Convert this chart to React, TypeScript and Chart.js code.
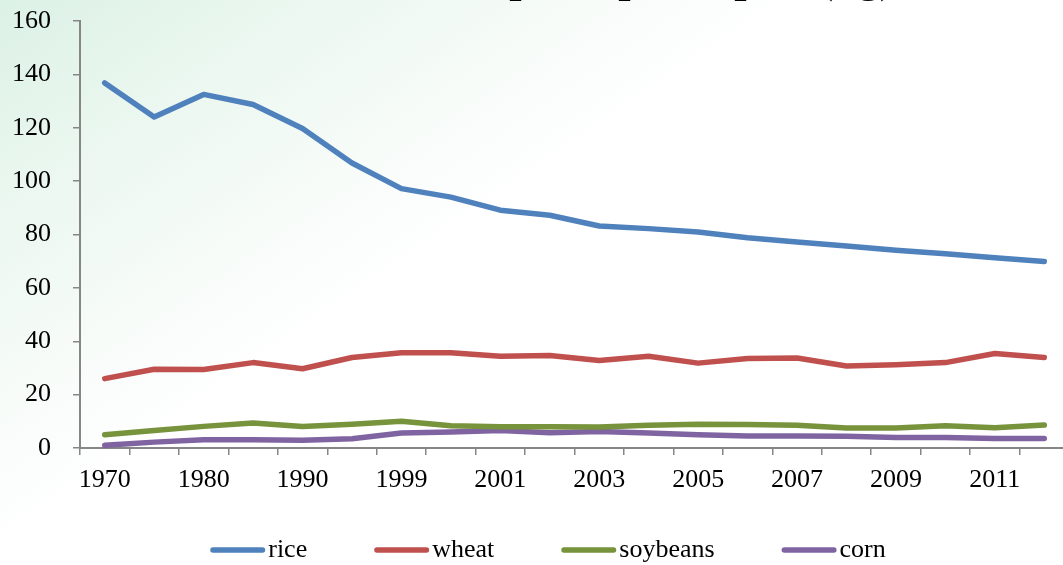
import React, { useEffect, useRef } from "react";
import { Chart, registerables } from "chart.js";

Chart.register(...registerables);

const YEARS = [
  "1970", "1975", "1980", "1985", "1990", "1995", "1999", "2000", "2001", "2002",
  "2003", "2004", "2005", "2006", "2007", "2008", "2009", "2010", "2011", "2012",
];
const RICE = [136.8, 124.0, 132.5, 128.7, 119.7, 106.8, 97.2, 94.0, 89.1, 87.2, 83.2, 82.2, 80.9, 78.8, 77.2, 75.7, 74.1, 72.8, 71.3, 69.9];
const WHEAT = [26.0, 29.5, 29.4, 32.0, 29.7, 33.9, 35.7, 35.7, 34.4, 34.7, 32.8, 34.4, 31.8, 33.5, 33.7, 30.7, 31.2, 32.0, 35.4, 33.9];
const SOYBEANS = [5.0, 6.6, 8.1, 9.4, 8.1, 8.9, 10.0, 8.3, 8.0, 8.0, 7.9, 8.5, 8.9, 8.8, 8.5, 7.5, 7.5, 8.3, 7.6, 8.6];
const CORN = [1.0, 2.2, 3.1, 3.1, 2.9, 3.5, 5.6, 6.0, 6.6, 5.7, 6.2, 5.6, 5.0, 4.5, 4.5, 4.4, 3.9, 3.9, 3.6, 3.6];
const SERIES_NAMES = ["rice", "wheat", "soybeans", "corn"];
const COLORS = ["#4f81bd", "#c0504d", "#77933c", "#8064a2"];
const Y_MIN = 0;
const Y_MAX = 160;
const Y_STEP = 20;
const TITLE = "Grain consumption per capita (kg)";

const FONT = "'Liberation Serif', 'Times New Roman', serif";
const AXIS = "#868686";
const CANVAS_W = 1070;
const CANVAS_H = 565;
const FONT_SIZE = 26;
const LINE_W = 5.5;

const bgPlugin = {
  id: "bg",
  beforeDraw(chart: any) {
    const ctx = chart.ctx;
    ctx.save();
    ctx.fillStyle = "#ffffff";
    ctx.fillRect(0, 0, chart.width, chart.height);
    const g = ctx.createLinearGradient(0, 0, 260, 380);
    g.addColorStop(0, "rgba(220,241,229,1)");
    g.addColorStop(0.35, "rgba(234,247,239,1)");
    g.addColorStop(0.7, "rgba(246,251,248,1)");
    g.addColorStop(1, "rgba(255,255,255,1)");
    ctx.fillStyle = g;
    ctx.fillRect(0, 0, chart.width, chart.height);
    ctx.restore();
  },
};

const decorPlugin = {
  id: "decor",
  afterDraw(chart: any) {
    const ctx = chart.ctx;
    ctx.save();
    // title (mostly above the visible area)
    ctx.font = `bold 44px ${FONT}`;
    ctx.fillStyle = "#000";
    ctx.textAlign = "center";
    ctx.textBaseline = "alphabetic";
    ctx.fillText(TITLE, 568, -8);

    // legend
    ctx.font = `${FONT_SIZE}px ${FONT}`;
    ctx.textBaseline = "middle";
    ctx.textAlign = "left";
    const lineLen = 55;
    const gap = 3;
    const itemGap = 67;
    const ds = chart.data.datasets;
    const widths = ds.map((d: any) => lineLen + gap + ctx.measureText(d.label).width);
    const total = widths.reduce((a: number, b: number) => a + b, 0) + itemGap * (ds.length - 1);
    let x = 548 - total / 2;
    const y = 550;
    ds.forEach((d: any, i: number) => {
      ctx.strokeStyle = d.borderColor;
      ctx.lineWidth = LINE_W;
      ctx.lineCap = "round";
      ctx.beginPath();
      ctx.moveTo(x + 2.75, y);
      ctx.lineTo(x + lineLen - 2.75, y);
      ctx.stroke();
      ctx.fillStyle = "#000";
      ctx.fillText(d.label, x + lineLen + gap, y);
      x += widths[i] + itemGap;
    });
    ctx.restore();
  },
};

export default function App() {
  const ref = useRef<HTMLCanvasElement>(null);
  useEffect(() => {
    if (!ref.current) return;
    const values = [RICE, WHEAT, SOYBEANS, CORN];
    const chart = new Chart(ref.current, {
      type: "line",
      data: {
        labels: YEARS,
        datasets: values.map((v, i) => ({
          label: SERIES_NAMES[i],
          data: v,
          borderColor: COLORS[i],
          backgroundColor: COLORS[i],
          borderWidth: LINE_W,
          pointRadius: 0,
          tension: 0,
          borderCapStyle: "round" as const,
          borderJoinStyle: "round" as const,
          fill: false,
        })),
      },
      options: {
        responsive: false,
        animation: false,
        devicePixelRatio: 1,
        layout: { padding: { top: 21, right: 1, left: 0, bottom: 0 } },
        plugins: {
          legend: { display: false },
          title: { display: false },
          tooltip: { enabled: false },
        },
        scales: {
          x: {
            type: "category",
            offset: true,
            grid: {
              display: true,
              drawOnChartArea: false,
              drawTicks: true,
              tickLength: 7,
              color: AXIS,
              lineWidth: 1.5,
              offset: true,
            },
            border: { display: true, color: AXIS, width: 2 },
            ticks: {
              autoSkip: false,
              maxRotation: 0,
              minRotation: 0,
              padding: 10,
              color: "#000",
              font: { family: FONT, size: FONT_SIZE },
              callback: (_v: any, i: number) => (i % 2 === 0 ? YEARS[i] : ""),
            },
            afterFit: (s: any) => {
              s.height = 117;
              s.paddingLeft = 0;
              s.paddingRight = 0;
            },
          },
          y: {
            min: Y_MIN,
            max: Y_MAX,
            grid: {
              drawOnChartArea: false,
              drawTicks: true,
              tickLength: 7,
              color: AXIS,
              lineWidth: 1.5,
            },
            border: { display: true, color: AXIS, width: 2 },
            ticks: {
              stepSize: Y_STEP,
              padding: 22,
              color: "#000",
              font: { family: FONT, size: FONT_SIZE },
            },
            afterFit: (s: any) => {
              s.width = 80;
              s.paddingTop = 0;
              s.paddingBottom = 0;
            },
          },
        },
      },
      plugins: [bgPlugin, decorPlugin],
    });
    return () => chart.destroy();
  }, []);
  return (
    <div
      style={{
        position: "fixed",
        left: 0,
        top: 0,
        width: 1063,
        height: 565,
        overflow: "hidden",
        background: "#fff",
      }}
    >
      <canvas
        ref={ref}
        width={CANVAS_W}
        height={CANVAS_H}
        style={{ display: "block", width: CANVAS_W, height: CANVAS_H }}
      />
    </div>
  );
}
